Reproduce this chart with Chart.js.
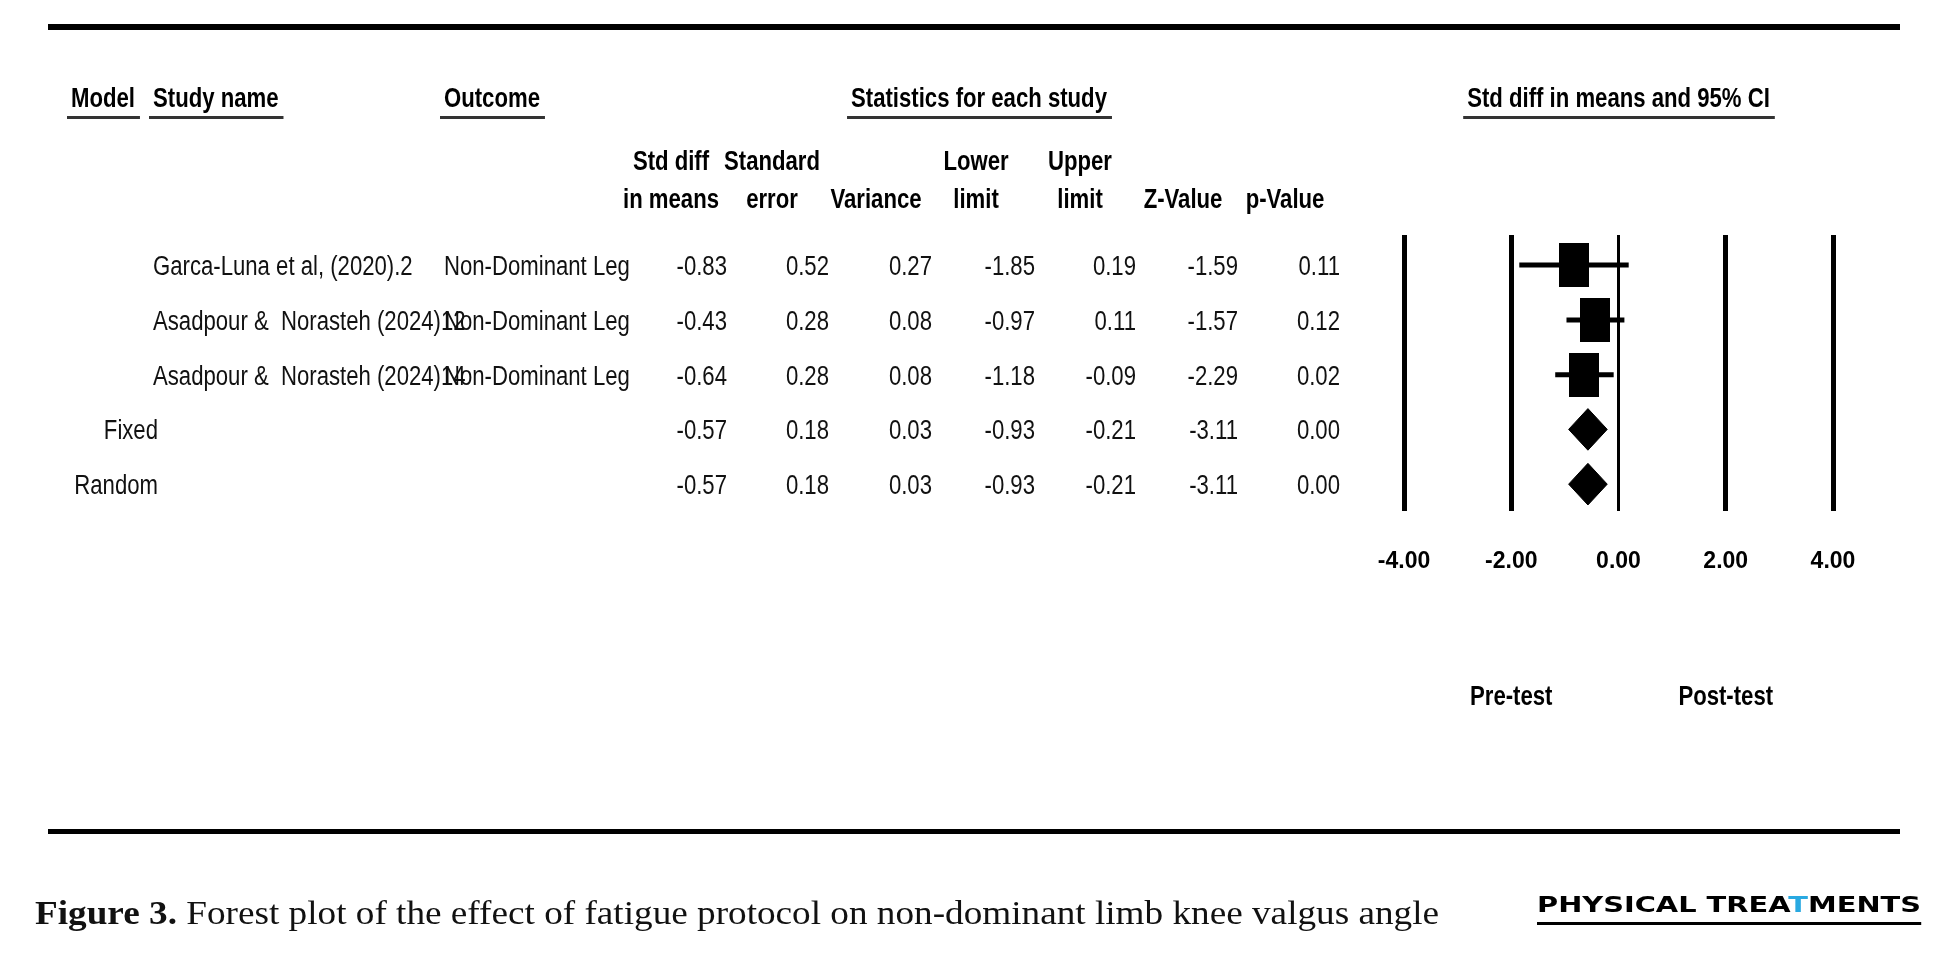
<!DOCTYPE html>
<html>
<head>
<meta charset="utf-8">
<title>Forest plot - non-dominant limb knee valgus angle</title>
<script src="https://cdn.jsdelivr.net/npm/chart.js@4.4.1/dist/chart.umd.min.js"></script>
<style>
  html, body { margin: 0; padding: 0; background: #fff; }
  #wrap { position: relative; width: 1950px; height: 974px; overflow: hidden; }
  #forestChart { position: absolute; left: 0; top: 0; }
  .rule { position: absolute; left: 48px; width: 1852px; background: #000; }
  .caption {
    position: absolute; left: 35px; top: 897px; white-space: nowrap;
    font-family: "Liberation Serif", "DejaVu Serif", serif; font-size: 33px; line-height: 33px; color: #111;
  }
  .caption b { font-weight: bold; }
  .logo {
    position: absolute; left: 1537px; top: 893px; white-space: nowrap;
    font-family: "DejaVu Sans", sans-serif; font-weight: bold; font-size: 22px; line-height: 24px;
    color: #000; border-bottom: 3px solid #000; padding-bottom: 5px;
  }
  .logo span { color: #29a9e1; }
</style>
</head>
<body>
<div id="wrap">
  <canvas id="forestChart" width="1950" height="974"></canvas>
  <div class="rule" style="top:24px;height:6px"></div>
  <div class="rule" style="top:829px;height:5px"></div>
  <div class="caption" id="caption"><b>Figure 3.</b> Forest plot of the effect of fatigue protocol on non-dominant limb knee valgus angle</div>
  <div class="logo" id="logo">PHYSICAL TREA<span>T</span>MENTS</div>
</div>
<script>
// Dados do forest plot
const modelNames = ["", "", "", "Fixed", "Random"];
const studyNames = ["Garca-Luna et al, (2020).2", "Asadpour &  Norasteh (2024)12", "Asadpour &  Norasteh (2024)14", "", ""];
const outcomes = ["Non-Dominant Leg", "Non-Dominant Leg", "Non-Dominant Leg", "", ""];
const stdDiff = [-0.83, -0.43, -0.64, -0.57, -0.57];
const stdError = [0.52, 0.28, 0.28, 0.18, 0.18];
const variance = [0.27, 0.08, 0.08, 0.03, 0.03];
const lowerLimit = [-1.85, -0.97, -1.18, -0.93, -0.93];
const upperLimit = [0.19, 0.11, -0.09, -0.21, -0.21];
const zValue = [-1.59, -1.57, -2.29, -3.11, -3.11];
const pValue = [0.11, 0.12, 0.02, 0.00, 0.00];
const isSummary = [false, false, false, true, true];
const xTicks = [-4, -2, 0, 2, 4];

// Estica o texto na horizontal até a largura desejada
function fitWidth(el, target) {
  const w = el.getBoundingClientRect().width;
  el.style.transformOrigin = "left top";
  el.style.transform = "scaleX(" + (target / w).toFixed(4) + ")";
}
fitWidth(document.getElementById("caption"), 1404);
fitWidth(document.getElementById("logo"), 384);

// Fonte estreita (tipo Arial Narrow) se existir
function hasFont(name) {
  const c = document.createElement("canvas").getContext("2d");
  c.font = "40px monospace";
  const a = c.measureText("Non-Dominant Leg 0.83").width;
  c.font = '40px "' + name + '", monospace';
  return c.measureText("Non-Dominant Leg 0.83").width !== a;
}
const narrowOk = hasFont("Liberation Sans Narrow");
const FAMILY = narrowOk ? '"Liberation Sans Narrow", "Liberation Sans", sans-serif' : '"Liberation Sans", Arial, sans-serif';
const SX = narrowOk ? 1 : 0.82;
const FS = 27;
const TICK_FS = narrowOk ? 27 : 23;

function drawText(ctx, text, x, y, align, bold, color) {
  ctx.save();
  ctx.font = (bold ? "bold " : "") + FS + "px " + FAMILY;
  ctx.fillStyle = color || "#111";
  ctx.textBaseline = "alphabetic";
  ctx.textAlign = align;
  ctx.translate(x, y);
  ctx.scale(SX, 1);
  ctx.fillText(text, 0, 0);
  const w = ctx.measureText(text).width * SX;
  ctx.restore();
  return w;
}

function underlined(ctx, text, x, y, align) {
  const w = drawText(ctx, text, x, y, align, true, "#000");
  const left = align === "center" ? x - w / 2 : x;
  ctx.save();
  ctx.fillStyle = "#333";
  ctx.fillRect(left - 4, y + 9, w + 9, 3);
  ctx.restore();
}

// Colunas da tabela
const colRight = [727, 829, 932, 1035, 1136, 1238, 1340];
const colCenter = [671, 772, 876, 976, 1080, 1183, 1285];
const head1 = ["Std diff", "Standard", "", "Lower", "Upper", "", ""];
const head2 = ["in means", "error", "Variance", "limit", "limit", "Z-Value", "p-Value"];

const tablePlugin = {
  id: "forestTable",
  afterDraw(chart) {
    const ctx = chart.ctx;
    const ys = chart.scales.y;
    const xs = chart.scales.x;
    underlined(ctx, "Model", 71, 107, "left");
    underlined(ctx, "Study name", 153, 107, "left");
    underlined(ctx, "Outcome", 444, 107, "left");
    underlined(ctx, "Statistics for each study", 979, 107, "center");
    underlined(ctx, "Std diff in means and 95% CI", xs.getPixelForValue(0), 107, "center");
    head1.forEach((t, i) => { if (t) drawText(ctx, t, colCenter[i], 170, "center", true, "#000"); });
    head2.forEach((t, i) => drawText(ctx, t, colCenter[i], 208, "center", true, "#000"));
    for (let i = 0; i < stdDiff.length; i++) {
      const y = ys.getPixelForValue(i + 1) + 10;
      if (modelNames[i]) drawText(ctx, modelNames[i], 158, y, "right", false);
      drawText(ctx, studyNames[i], 153, y, "left", false);
      drawText(ctx, outcomes[i], 444, y, "left", false);
      const vals = [stdDiff[i], stdError[i], variance[i], lowerLimit[i], upperLimit[i], zValue[i], pValue[i]];
      vals.forEach((v, j) => drawText(ctx, v.toFixed(2), colRight[j], y, "right", false));
    }
    drawText(ctx, "Pre-test", xs.getPixelForValue(-2), 705, "center", true, "#000");
    drawText(ctx, "Post-test", xs.getPixelForValue(2), 705, "center", true, "#000");
  }
};

// Marcador retangular dos estudos
const box = document.createElement("canvas");
box.width = 30;
box.height = 44;
const bctx = box.getContext("2d");
bctx.fillStyle = "#000";
bctx.fillRect(0, 0, 30, 44);

const DIAMOND_H = 0.38;
const datasets = [];
const studyPoints = [];
for (let i = 0; i < stdDiff.length; i++) {
  const row = i + 1;
  if (isSummary[i]) {
    datasets.push({
      data: [
        { x: lowerLimit[i], y: row }, { x: stdDiff[i], y: row - DIAMOND_H },
        { x: upperLimit[i], y: row }, { x: stdDiff[i], y: row + DIAMOND_H },
        { x: lowerLimit[i], y: row }
      ],
      borderColor: "#000", backgroundColor: "#000", borderWidth: 1,
      fill: "shape", pointRadius: 0, tension: 0, order: 1
    });
  } else {
    studyPoints.push({ x: stdDiff[i], y: row });
    datasets.push({
      data: [{ x: lowerLimit[i], y: row }, { x: upperLimit[i], y: row }],
      borderColor: "#000", borderWidth: 5, pointRadius: 0, fill: false, order: 2
    });
  }
}
datasets.push({
  data: studyPoints, showLine: false, pointStyle: box, pointRadius: 15,
  backgroundColor: "#000", borderColor: "#000", order: 0
});

const forestEl = document.getElementById("forestChart");
new Chart(forestEl, {
  type: "line",
  data: { datasets },
  options: {
    responsive: false,
    animation: false,
    devicePixelRatio: 1,
    layout: { padding: { left: 1404, right: 117, top: 235, bottom: 383 } },
    plugins: { legend: { display: false }, tooltip: { enabled: false } },
    scales: {
      x: {
        type: "linear", min: -4, max: 4,
        afterBuildTicks: (s) => { s.ticks = xTicks.map((v) => ({ value: v })); },
        afterFit: (s) => { s.height = 80; },
        border: { display: false },
        grid: {
          color: "#000", drawTicks: false,
          lineWidth: (c) => (c.tick && c.tick.value === 0 ? 3 : 5)
        },
        ticks: {
          padding: 37, color: "#000",
          font: { family: FAMILY, size: TICK_FS, weight: "bold" },
          callback: (v) => Number(v).toFixed(2)
        }
      },
      y: { type: "linear", reverse: true, min: 0.45, max: 5.49, display: false }
    }
  },
  plugins: [tablePlugin]
});
</script>
</body>
</html>
